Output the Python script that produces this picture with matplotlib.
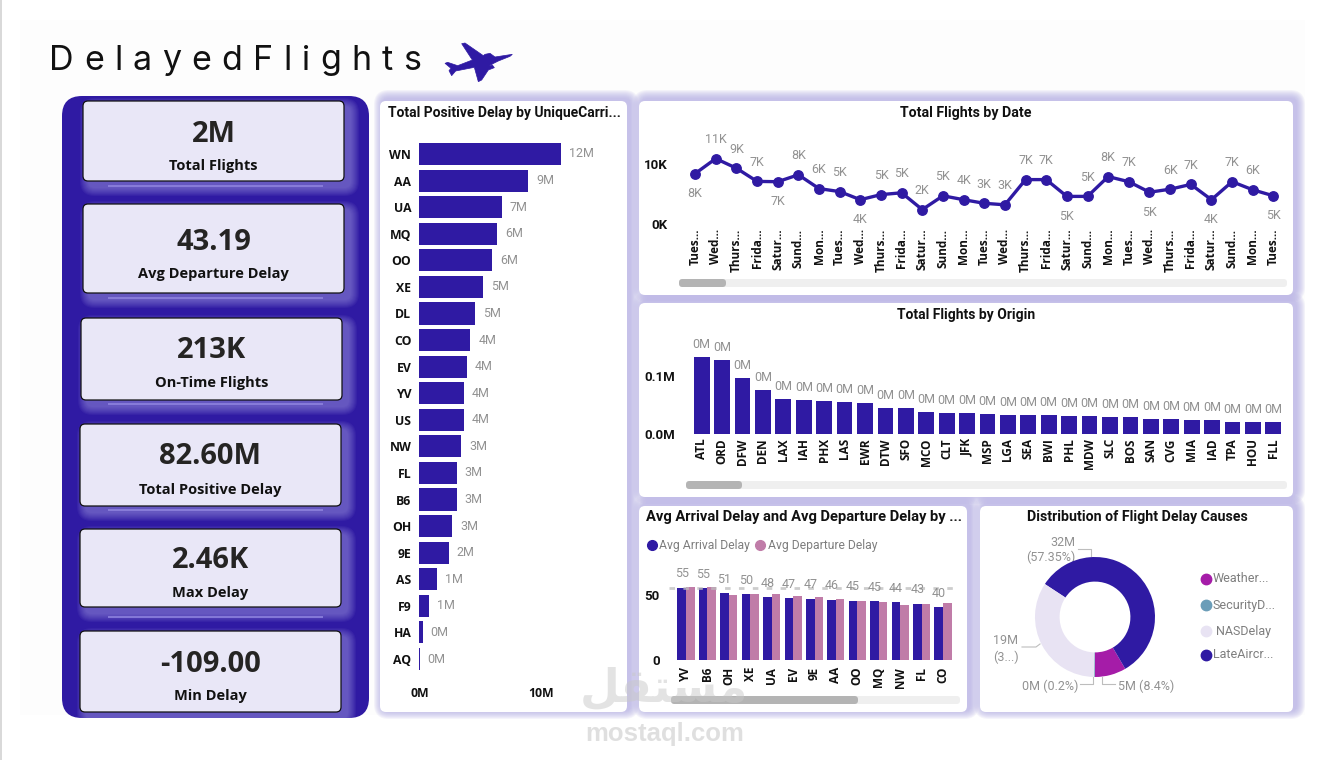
import matplotlib
matplotlib.use("Agg")
import matplotlib.pyplot as plt
from matplotlib.patches import FancyBboxPatch, Polygon, Rectangle

W, H = 1330, 760
PURPLE = "#2F1AA3"
PINK = "#C07CA8"
GRAY_LABEL = "#929292"
NUM_FONT = "Roboto"
TICK_FONT = "Open Sans"
TITLE_FONT = "Roboto"

# KPI cards
kpi_values = ["2M", "43.19", "213K", "82.60M", "2.46K", "-109.00"]
kpi_names = ["Total Flights", "Avg Departure Delay", "On-Time Flights",
             "Total Positive Delay", "Max Delay", "Min Delay"]

# Total positive delay per carrier, in millions
carriers = ["WN", "AA", "UA", "MQ", "OO", "XE", "DL", "CO", "EV", "YV",
            "US", "NW", "FL", "B6", "OH", "9E", "AS", "F9", "HA", "AQ"]
carrier_delay = [11.6, 8.95, 6.8, 6.4, 6.0, 5.25, 4.6, 4.2, 3.9, 3.7,
                 3.7, 3.45, 3.1, 3.1, 2.7, 2.43, 1.48, 0.8, 0.3, 0.05]

# Flights per date, in thousands
date_labels = ["Tues...", "Wed...", "Thurs...", "Frida...", "Satur...", "Sund...", "Mon...",
               "Tues...", "Wed...", "Thurs...", "Frida...", "Satur...", "Sund...", "Mon...",
               "Tues...", "Wed...", "Thurs...", "Frida...", "Satur...", "Sund...", "Mon...",
               "Tues...", "Wed...", "Thurs...", "Frida...", "Satur...", "Sund...", "Mon...", "Tues..."]
date_flights = [8.4, 10.9, 9.3, 7.1, 7.05, 8.2, 5.9, 5.4, 4.05, 4.9, 5.2, 2.4, 4.7, 4.05,
                3.45, 3.2, 7.4, 7.4, 4.6, 4.6, 7.9, 7.05, 5.3, 5.8, 6.6, 4.05, 7.05, 5.7, 4.7]
date_below = [0, 4, 8, 18, 22, 25, 28]

# Flights per origin airport, in millions
origins = ["ATL", "ORD", "DFW", "DEN", "LAX", "IAH", "PHX", "LAS", "EWR", "DTW", "SFO", "MCO",
           "CLT", "JFK", "MSP", "LGA", "SEA", "BWI", "PHL", "MDW", "SLC", "BOS", "SAN", "CVG",
           "MIA", "IAD", "TPA", "HOU", "FLL"]
origin_flights = [0.133, 0.128, 0.0965, 0.0757, 0.060, 0.0584, 0.0566, 0.055, 0.053, 0.0445,
                  0.0445, 0.0376, 0.0358, 0.0358, 0.0341, 0.0324, 0.0324, 0.0324, 0.0306, 0.0306,
                  0.0289, 0.0289, 0.0254, 0.0254, 0.0237, 0.0237, 0.0202, 0.0202, 0.0202]

# Average delays per carrier
avg_carriers = ["YV", "B6", "OH", "XE", "UA", "EV", "9E", "AA", "OO", "MQ", "NW", "FL", "CO"]
avg_arrival = [55.4, 55.2, 51.3, 50.4, 48.2, 47.4, 47.2, 46.3, 45.4, 45.3, 44.3, 43.3, 40.4]
avg_departure = [56.0, 56.0, 50.0, 50.8, 50.8, 49.2, 48.5, 46.9, 45.4, 44.6, 42.3, 43.1, 43.8]
avg_reference = 55.6

# Delay causes, in millions
cause_names = ["Weather...", "SecurityD...", "NASDelay", "LateAircr..."]
cause_order = ["Weather", "LateAircraft", "NAS", "Security"]
cause_values = [4.7, 32.1, 19.06, 0.11]
cause_colors = ["#A51CA8", PURPLE, "#E8E3F3", "#6B9DB8"]
legend_colors = ["#A51CA8", "#6B9DB8", "#E8E3F3", PURPLE]

# plane icon outline, in 1/3 pixel steps from the icon corner
plane_x = [232, 180, 165, 150, 145, 90, 80, 112, 68, 38, 30, 48, 42, 50, 62, 118, 130, 140, 160, 178, 172, 162, 190, 225]
plane_y = [58, 66, 55, 58, 62, 24, 26, 75, 92, 82, 85, 100, 107, 122, 108, 97, 140, 135, 105, 98, 90, 92, 78, 64]

panels = [(380, 101, 627, 712), (639, 101, 1293, 295), (639, 303, 1293, 497),
          (639, 506, 967, 712), (980, 506, 1293, 712)]


def ax_px(left, top, right, bottom, zorder=2):
    # axes placed by pixel box, y measured from the top of the page
    ax = fig.add_axes([left / W, 1 - bottom / H, (right - left) / W, (bottom - top) / H], zorder=zorder)
    ax.patch.set_alpha(0)
    for s in ax.spines.values():
        s.set_visible(False)
    return ax


def rbox(ax, l, t, r, b, rad, **kw):
    p = FancyBboxPatch((l + rad, t + rad), r - l - 2 * rad, b - t - 2 * rad,
                       boxstyle=f"round,pad={rad},rounding_size={rad}", **kw)
    ax.add_patch(p)
    return p


def glow(ax, l, t, r, b, spread, color, clip=None, alpha=0.09, dx=0, dy=0):
    for i in range(spread, 0, -1):
        p = rbox(ax, l - i + dx, t - i + dy, r + i + dx, b + i + dy, 6 + i,
                 fc=color, ec="none", alpha=alpha)
        if clip is not None:
            p.set_clip_path(clip)


def scrollbar(ax, l, r, t, b, thumb_r):
    rbox(ax, l, t, r, b, 3.5, fc="#EFEFEF", ec="none")
    rbox(ax, l, t, thumb_r, b, 3.5, fc="#B4B4B4", ec="none")


def short(v, unit):
    return f"{round(v):d}{unit}"


fig = plt.figure(figsize=(W / 100, H / 100), dpi=100, facecolor="white")

# page layer in pixel coordinates
bg = ax_px(0, 0, W, H, zorder=0)
bg.set_xlim(0, W)
bg.set_ylim(H, 0)
bg.axis("off")
bg.add_patch(Rectangle((20, 20), 1285, 695, fc="#FDFDFD", ec="none"))
bg.add_patch(Rectangle((0, 0), 1.5, H, fc="#D9D9D9", ec="none"))

# heading, letter by letter because of the wide tracking
renderer = fig.canvas.get_renderer()
heading = "DelayedFlights"
letters = [bg.text(0, 69.5, c, fontsize=24.5, family="Inter", color="#111111", va="baseline", ha="left")
           for c in heading]
widths = [t.get_window_extent(renderer).width for t in letters]
gap = (372 - sum(widths)) / (len(heading) - 1)
x = 49
for t, w in zip(letters, widths):
    t.set_x(x)
    x += w + gap

# plane icon
bg.add_patch(Polygon([(435 + px / 3, 35 + py / 3) for px, py in zip(plane_x, plane_y)],
                     closed=True, fc=PURPLE, ec=PURPLE, lw=0.5))

# KPI column
side = rbox(bg, 62, 96, 369, 718, 20, fc=PURPLE, ec="none")
cards = [(83, 101, 344, 181), (83, 204, 344, 293), (81, 318, 342, 400),
         (80, 424, 341, 506), (80, 529, 341, 607), (80, 631, 341, 712)]
value_y = [134, 242, 351, 457, 561, 664]
name_y = [166, 274, 383, 490, 593, 696]
sep_y = [185.5, 298, 404, 510, 617]
for box in cards:
    glow(bg, *box, 9, "#A79EE6", clip=side, alpha=0.07, dx=6, dy=6)
for y in sep_y:
    bg.plot([108, 323], [y, y], color="#8E83DE", lw=1.2, solid_capstyle="butt")
for box, val, name, vy, ny in zip(cards, kpi_values, kpi_names, value_y, name_y):
    rbox(bg, *box, 5, fc="#E9E7F7", ec="#111111", lw=0.9)
    cx = (box[0] + box[2]) / 2
    bg.text(cx, vy, val, fontsize=21, family=TICK_FONT, weight="bold", color="#252423", ha="center", va="center")
    bg.text(cx, ny, name, fontsize=10.5, family=TICK_FONT, weight="bold", color="#111111", ha="center", va="center")

# chart panels, all shadows first so none falls on a neighbour
for box in panels:
    glow(bg, *box, 9, "#B4ADE4", alpha=0.13, dx=3, dy=-2)
for box in panels:
    rbox(bg, *box, 6, fc="white", ec="none")

title_kw = dict(family=TITLE_FONT, weight="bold", color="#111111", va="center")
bg.text(388, 113, "Total Positive Delay by UniqueCarri...", ha="left", fontsize=10, **title_kw)
bg.text(966, 113, "Total Flights by Date", ha="center", fontsize=10.2, **title_kw)
bg.text(966, 314.5, "Total Flights by Origin", ha="center", fontsize=10, **title_kw)
bg.text(646, 517, "Avg Arrival Delay and Avg Departure Delay by ...", ha="left", fontsize=10.6, **title_kw)
bg.text(1137, 517, "Distribution of Flight Delay Causes", ha="center", fontsize=10.2, **title_kw)

scrollbar(bg, 679, 1287, 279, 287, 726)
scrollbar(bg, 686, 1287, 481, 489, 742)
scrollbar(bg, 671, 960, 696, 704, 858)

label_font = dict(fontsize=9, family=NUM_FONT, color=GRAY_LABEL)

# carrier bars
ax = ax_px(419, 140.7, 620, 672.3)
ax.barh(range(len(carriers)), carrier_delay, height=0.83, color=PURPLE)
ax.set_xlim(0, 201 / 12.2)
ax.set_ylim(19.5, -0.5)
ax.set_yticks(range(len(carriers)), carriers, family=TICK_FONT, weight="bold", fontsize=8.8, color="#111111")
ax.set_xticks([0.1, 10], ["0M", "10M"], family=TICK_FONT, weight="bold", fontsize=8.8, color="#111111")
ax.tick_params(length=0)
ax.tick_params(axis="y", pad=5.5)
ax.tick_params(axis="x", pad=10.5)
for i, v in enumerate(carrier_delay):
    ax.annotate(short(v, "M"), (v, i), xytext=(8, 0), textcoords="offset pixels", va="center", ha="left", **label_font)

# flights by date
step = (1273.4 - 695.1) / 28
ax = ax_px(679, 124, 1290, 224)
ax.plot(range(len(date_flights)), date_flights, color=PURPLE, lw=2.4, marker="o", ms=6.8)
ax.set_xlim(-(695.1 - 679) / step, 28 + (1290 - 1273.4) / step)
ax.set_ylim(0, 100 / 6)
ax.set_yticks([0, 10], ["0K", "10K"], family=TITLE_FONT, weight="bold", fontsize=9.5, color="#111111")
ax.set_xticks(range(len(date_labels)), date_labels, rotation=90, family=TICK_FONT, weight="bold",
              fontsize=8.5, color="#111111")
ax.tick_params(length=0)
ax.tick_params(axis="y", pad=8)
ax.tick_params(axis="x", pad=3.5)
for i, v in enumerate(date_flights):
    off = -20 if i in date_below else 19
    ax.annotate(short(v, "K"), (i, v), xytext=(0, off), textcoords="offset pixels", ha="center", va="center", **label_font)

# flights by origin
step = (1273.3 - 701.7) / 28
ax = ax_px(686, 330, 1290, 434)
ax.bar(range(len(origins)), origin_flights, width=0.77, color=PURPLE)
ax.set_xlim(-(701.7 - 686) / step, 28 + (1290 - 1273.3) / step)
ax.set_ylim(0, 104 / 577)
ax.set_yticks([0, 0.1], ["0.0M", "0.1M"], family=TITLE_FONT, weight="bold", fontsize=9.5, color="#111111")
ax.set_xticks(range(len(origins)), origins, rotation=90, family=TICK_FONT, weight="bold", fontsize=8.5, color="#111111")
ax.tick_params(length=0)
ax.tick_params(axis="y", pad=8)
ax.tick_params(axis="x", pad=3)
for i, v in enumerate(origin_flights):
    ax.annotate(short(v, "M"), (i, v), xytext=(0, 13), textcoords="offset pixels", ha="center", va="center", **label_font)

# average delays, clustered
step = (943 - 686) / 12
ax = ax_px(669, 570, 958, 660)
xs = list(range(len(avg_carriers)))
ax.bar([i - 0.2 for i in xs], avg_arrival, width=0.4, color=PURPLE)
ax.bar([i + 0.2 for i in xs], avg_departure, width=0.4, color=PINK)
ax.axhline(avg_reference, color="#BDBDBD", lw=2, ls=(0, (2, 3)), alpha=0.75)
ax.set_xlim(-(686 - 669) / step, 12 + (958 - 943) / step)
ax.set_ylim(0, 90 / 1.3)
ax.set_yticks([0, 50], ["0", "50"], family=TITLE_FONT, weight="bold", fontsize=9.5, color="#111111")
ax.set_xticks(xs, avg_carriers, rotation=90, family=TICK_FONT, weight="bold", fontsize=8.5, color="#111111")
ax.tick_params(length=0)
ax.tick_params(axis="y", pad=6.5)
ax.tick_params(axis="x", pad=5)
for i, v in zip(xs, avg_arrival):
    ax.annotate(short(v, ""), (i - 0.2, v), xytext=(0, 14), textcoords="offset pixels", ha="center", va="center", **label_font)

# legend of the clustered bars
legend_kw = dict(fontsize=8.7, family=NUM_FONT, color="#7E7E7E", va="center", ha="left")
bg.plot([652], [545], "o", ms=7, color=PURPLE)
bg.text(659, 545, "Avg Arrival Delay", **legend_kw)
bg.plot([760], [545], "o", ms=7, color=PINK)
bg.text(768, 545, "Avg Departure Delay", **legend_kw)

# delay causes donut
ax = ax_px(1035, 557, 1155, 677)
ax.pie(cause_values, colors=cause_colors, startangle=270, counterclock=True,
       wedgeprops=dict(width=0.41, linewidth=0))
ax.set_xlim(-1, 1)
ax.set_ylim(-1, 1)

total = sum(cause_values)
pct = {n: 100 * v / total for n, v in zip(cause_order, cause_values)}
vals = dict(zip(cause_order, cause_values))
label_kw = dict(va="center", ha="center", **label_font)
bg.text(1063, 542, short(vals["LateAircraft"], "M"), **label_kw)
bg.text(1051, 557, f"({pct['LateAircraft']:.2f}%)", **label_kw)
bg.text(1006, 640, short(vals["NAS"], "M"), **label_kw)
bg.text(1006, 657, "(3...)", **label_kw)
bg.text(1050, 686, f"{short(vals['Security'], 'M')} ({pct['Security']:.1f}%)", **label_kw)
bg.text(1146, 686, f"{short(vals['Weather'], 'M')} ({pct['Weather']:.1f}%)", **label_kw)
for xl, yl in [([1078, 1091, 1091], [549, 549, 556]),
               ([1022, 1036, 1040], [647, 647, 644]),
               ([1080, 1093, 1093], [684, 684, 677]),
               ([1102, 1102, 1115], [677, 684, 684])]:
    bg.plot(xl, yl, color="#BDBDBD", lw=0.8)

for name, col, y in zip(cause_names, legend_colors, [579, 605, 631, 655]):
    bg.plot([1205.5], [y], "o", ms=7.5, color=col)
    tx = 1216 if name == "NASDelay" else 1212.5
    bg.text(tx, y, name, fontsize=9, family=NUM_FONT, color="#7E7E7E", va="center", ha="left")

bg.set_xlim(0, W)
bg.set_ylim(H, 0)

# site mark over the lower middle of the page
top = ax_px(0, 0, W, H, zorder=5)
top.set_xlim(0, W)
top.set_ylim(H, 0)
top.axis("off")
top.text(664, 689, "\ufede\ufed8\ufe98\ufeb4\ufee3", fontsize=33, family="DejaVu Sans", weight="bold",
         color="#C8C8C8", alpha=0.5, ha="center", va="center")
top.text(665, 734, "mostaql.com", fontsize=18.5, family="Liberation Sans", weight="bold",
         color="#D8D8D8", alpha=0.8, ha="center", va="center")

fig.savefig("out.png", dpi=100, facecolor="white")
